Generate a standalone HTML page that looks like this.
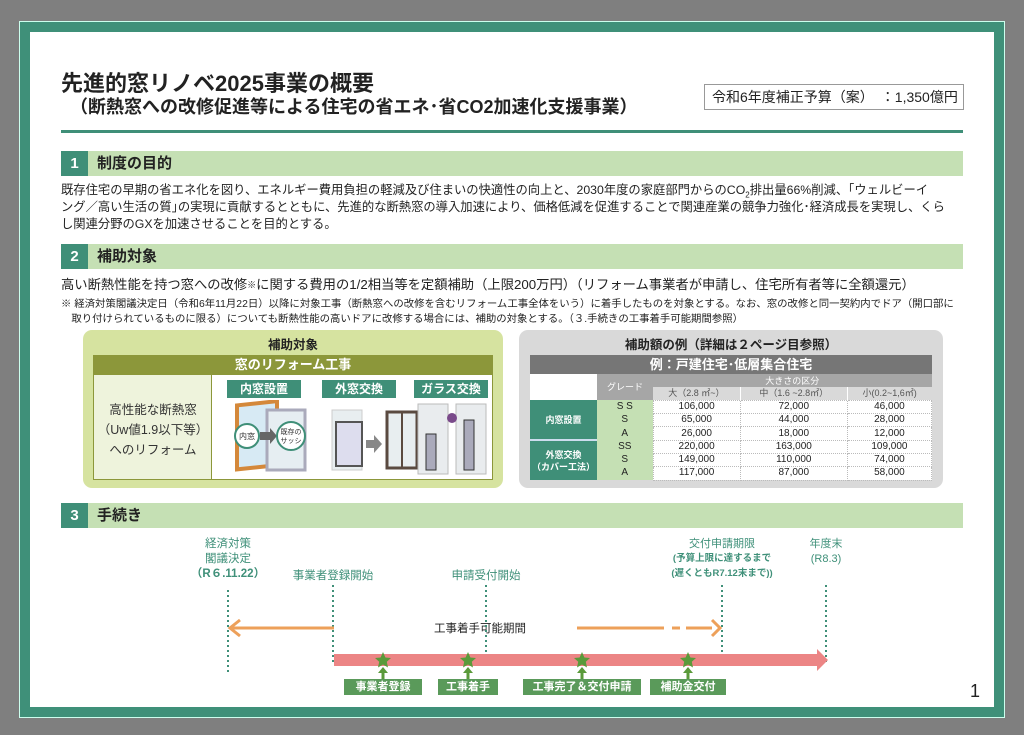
<!DOCTYPE html>
<html><head><meta charset="utf-8"><style>
*{margin:0;padding:0;box-sizing:border-box}
body{width:1024px;height:735px;background:#7f7f7f;position:relative;overflow:hidden;font-family:"Liberation Sans","Noto Sans CJK JP",sans-serif;color:#222}
.a{position:absolute;white-space:nowrap}
.frame{left:19px;top:21px;width:986px;height:697px;background:#3f9079;border:1px solid #cfe;}
.inner{left:30px;top:32px;width:964px;height:675px;background:#fff}
.bar{left:61px;width:902px;height:25px;background:#c5e0b4}
.num{width:27px;height:25px;background:#3f8f78;color:#fff;font-weight:bold;font-size:15px;text-align:center;line-height:25px}
.bt{font-weight:bold;font-size:15px;line-height:25px;left:36px;top:0}
.p{font-size:12.3px;line-height:17px}
.gl{background:#3f8f78;color:#fff;font-weight:bold;font-size:12px;text-align:center;line-height:18px}
table{border-collapse:collapse;font-size:10px}
td{text-align:center;height:13.3px;line-height:12px;padding:0}
td.w{background:#fff;border:1px dotted #bbb}
.tl{background:#5a9a5a;color:#fff;font-weight:bold;font-size:11px;text-align:center;line-height:16px}
</style></head><body>
<div class="a frame"></div>
<div class="a inner"></div>
<div class="a" style="left:61px;top:66px;font-size:22px;font-weight:bold">先進的窓リノベ2025事業の概要</div>
<div class="a" style="left:70px;top:93px;font-size:18px;font-weight:bold">（断熱窓への改修促進等による住宅の省エネ･省CO2加速化支援事業）</div>
<div class="a" style="left:704px;top:84px;width:260px;height:26px;border:1px solid #999;font-size:14px;line-height:24px;padding-left:7px">令和6年度補正予算（案）　：1,350億円</div>
<div class="a" style="left:61px;top:130px;width:902px;height:3px;background:#3f8f78"></div>

<div class="a bar" style="top:151px"><div class="a num" style="left:0;top:0">1</div><div class="a bt">制度の目的</div></div>
<div class="a p" style="left:61px;top:182px">既存住宅の早期の省エネ化を図り、エネルギー費用負担の軽減及び住まいの快適性の向上と、2030年度の家庭部門からのCO<sub style="font-size:8px">2</sub>排出量66%削減、｢ウェルビーイ</div>
<div class="a p" style="left:61px;top:199px">ング／高い生活の質｣の実現に貢献するとともに、先進的な断熱窓の導入加速により、価格低減を促進することで関連産業の競争力強化･経済成長を実現し、くら</div>
<div class="a p" style="left:61px;top:216px">し関連分野のGXを加速させることを目的とする。</div>

<div class="a bar" style="top:244px"><div class="a num" style="left:0;top:0">2</div><div class="a bt">補助対象</div></div>
<div class="a" style="left:61px;top:276px;font-size:13.3px;line-height:18px">高い断熱性能を持つ窓への改修<span style="font-size:9px;vertical-align:top">※</span>に関する費用の1/2相当等を定額補助（上限200万円）（リフォーム事業者が申請し、住宅所有者等に全額還元）</div>
<div class="a" style="left:61px;top:297px;font-size:10.4px;line-height:15px">※ 経済対策閣議決定日（令和6年11月22日）以降に対象工事（断熱窓への改修を含むリフォーム工事全体をいう）に着手したものを対象とする。なお、窓の改修と同一契約内でドア（開口部に<br>　取り付けられているものに限る）についても断熱性能の高いドアに改修する場合には、補助の対象とする。（３.手続きの工事着手可能期間参照）</div>

<div class="a" style="left:83px;top:330px;width:420px;height:158px;background:#d6e3a0;border-radius:9px"></div>
<div class="a" style="left:83px;top:334px;width:420px;text-align:center;font-size:12.5px;font-weight:bold">補助対象</div>
<div class="a" style="left:93px;top:355px;width:400px;height:19px;background:#8c973a;color:#fff;font-weight:bold;font-size:13px;text-align:center;line-height:19px">窓のリフォーム工事</div>
<div class="a" style="left:93px;top:374px;width:400px;height:106px;background:#fff;border:1px solid #8c973a"></div>
<div class="a" style="left:94px;top:375px;width:118px;height:104px;background:#eef3dc;border-right:1px solid #8c973a"></div>
<div class="a" style="left:94px;top:400px;width:118px;text-align:center;font-size:12.5px;line-height:20px;color:#333">高性能な断熱窓<br>（Uw値1.9以下等）<br>へのリフォーム</div>
<div class="a gl" style="left:227px;top:380px;width:74px">内窓設置</div>
<div class="a gl" style="left:322px;top:380px;width:74px">外窓交換</div>
<div class="a gl" style="left:414px;top:380px;width:74px">ガラス交換</div>
<svg class="a" style="left:212px;top:400px" width="280" height="78">
<rect x="25" y="8" width="40" height="64" fill="#d7eaf4" stroke="#d4883a" stroke-width="4" transform="skewY(-6)"/>
<rect x="55" y="10" width="38" height="60" fill="#e6eef2" stroke="#aab" stroke-width="3"/>
<circle cx="35" cy="36" r="12" fill="#fff" stroke="#3f8f78" stroke-width="2"/>
<text x="35" y="39" font-size="8" text-anchor="middle" fill="#333" font-family="Liberation Sans,Noto Sans CJK JP,sans-serif">内窓</text>
<polygon points="48,32 58,32 58,28 65,36 58,44 58,40 48,40" fill="#666"/>
<circle cx="79" cy="36" r="14" fill="#fff" stroke="#3f8f78" stroke-width="2"/>
<text x="79" y="34" font-size="7" text-anchor="middle" fill="#333" font-family="Liberation Sans,Noto Sans CJK JP,sans-serif">既存の</text>
<text x="79" y="43" font-size="7" text-anchor="middle" fill="#333" font-family="Liberation Sans,Noto Sans CJK JP,sans-serif">サッシ</text>
<rect x="120" y="10" width="30" height="60" fill="#e8eef0" stroke="#ccc"/>
<rect x="124" y="22" width="26" height="44" fill="#dde" stroke="#555" stroke-width="2"/>
<polygon points="154,40 162,40 162,35 170,44 162,53 162,48 154,48" fill="#888"/>
<rect x="175" y="12" width="30" height="56" fill="#e8eef0" stroke="#5a4a40" stroke-width="3"/>
<line x1="190" y1="12" x2="190" y2="68" stroke="#5a4a40" stroke-width="2"/>
<rect x="206" y="4" width="30" height="70" fill="#e9ecee" stroke="#bbb"/>
<rect x="244" y="4" width="30" height="70" fill="#e9ecee" stroke="#bbb"/>
<rect x="214" y="34" width="10" height="36" fill="#aab" stroke="#333"/>
<rect x="252" y="20" width="10" height="50" fill="#aab" stroke="#333"/>
<circle cx="240" cy="18" r="5" fill="#7a4a8a"/>
</svg>

<div class="a" style="left:519px;top:330px;width:424px;height:158px;background:#d9d9d9;border-radius:9px"></div>
<div class="a" style="left:519px;top:334px;width:424px;text-align:center;font-size:12.5px;font-weight:bold">補助額の例（詳細は２ページ目参照）</div>
<div class="a" style="left:530px;top:355px;width:402px;height:19px;background:#767676;color:#fff;font-weight:bold;font-size:13px;text-align:center;line-height:19px">例：戸建住宅･低層集合住宅</div>
<table class="a" style="left:530px;top:374px;width:402px">
<tr><td rowspan="2" style="width:67px;background:#fff;height:26px"></td><td rowspan="2" style="width:56px;background:#a6a6a6;color:#fff;font-size:9px">グレード</td><td colspan="3" style="background:#a6a6a6;color:#fff;font-size:9px;height:13px">大きさの区分</td></tr>
<tr><td style="background:#d9d9d9;color:#555;font-size:9px;border-right:1px solid #fff;height:13px">大（2.8 ㎡~）</td><td style="background:#d9d9d9;color:#555;font-size:9px;border-right:1px solid #fff">中（1.6 ~2.8㎡）</td><td style="background:#d9d9d9;color:#555;font-size:9px">小(0.2~1,6㎡)</td></tr>
<tr><td rowspan="3" style="background:#3f8f78;color:#fff;font-size:9px;font-weight:bold;border-bottom:2px solid #cde">内窓設置</td><td style="background:#c5e0b4">S S</td><td class="w">106,000</td><td class="w">72,000</td><td class="w">46,000</td></tr>
<tr><td style="background:#c5e0b4">S</td><td class="w">65,000</td><td class="w">44,000</td><td class="w">28,000</td></tr>
<tr><td style="background:#c5e0b4">A</td><td class="w">26,000</td><td class="w">18,000</td><td class="w">12,000</td></tr>
<tr><td rowspan="3" style="background:#3f8f78;color:#fff;font-size:9px;font-weight:bold;line-height:12px">外窓交換<br>（カバー工法）</td><td style="background:#c5e0b4">SS</td><td class="w">220,000</td><td class="w">163,000</td><td class="w">109,000</td></tr>
<tr><td style="background:#c5e0b4">S</td><td class="w">149,000</td><td class="w">110,000</td><td class="w">74,000</td></tr>
<tr><td style="background:#c5e0b4">A</td><td class="w">117,000</td><td class="w">87,000</td><td class="w">58,000</td></tr>
</table>

<div class="a bar" style="top:503px"><div class="a num" style="left:0;top:0">3</div><div class="a bt">手続き</div></div>

<div class="a" style="left:178px;top:537px;width:100px;text-align:center;font-size:11.5px;line-height:15px;color:#3f9079">経済対策<br>閣議決定<br><b>（R６.11.22）</b></div>
<div class="a" style="left:283px;top:567px;width:100px;text-align:center;font-size:11.5px;color:#3f9079">事業者登録開始</div>
<div class="a" style="left:436px;top:567px;width:100px;text-align:center;font-size:11.5px;color:#3f9079">申請受付開始</div>
<div class="a" style="left:652px;top:537px;width:140px;text-align:center;font-size:11px;line-height:14px;color:#3f9079">交付申請期限<br><b style="font-size:9.5px">(予算上限に達するまで<br>(遅くともR7.12末まで))</b></div>
<div class="a" style="left:786px;top:537px;width:80px;text-align:center;font-size:11px;line-height:15px;color:#3f9079">年度末<br>(R8.3)</div>
<div class="a" style="left:420px;top:620px;width:120px;text-align:center;font-size:11.5px">工事着手可能期間</div>
<svg class="a" style="left:0;top:0" width="1024" height="735">
<g stroke="#3f8f78" stroke-width="2" stroke-dasharray="2,3">
<line x1="228" y1="590" x2="228" y2="674"/><line x1="333" y1="585" x2="333" y2="665"/><line x1="486" y1="585" x2="486" y2="662"/><line x1="722" y1="585" x2="722" y2="662"/><line x1="826" y1="585" x2="826" y2="662"/>
</g>
<g stroke="#eda05a" stroke-width="3" fill="none">
<line x1="230" y1="628" x2="334" y2="628"/><polyline points="240,620 230,628 240,636"/>
<line x1="577" y1="628" x2="664" y2="628"/><line x1="672" y1="628" x2="680" y2="628"/><line x1="686" y1="628" x2="712" y2="628"/><polyline points="712,620 720,628 712,636"/>
</g>
<polygon points="334,654 817,654 817,649 828,660 817,671 817,666 334,666" fill="#ec8585"/>
<g fill="#5a9a3a">
<polygon id="st" points="383,652 385.4,657.5 391,658 386.8,661.8 388,667.5 383,664.5 378,667.5 379.2,661.8 375,658 380.6,657.5"/>
<use href="#st" x="85"/><use href="#st" x="199"/><use href="#st" x="305"/>
<g id="ar"><rect x="381.5" y="671" width="3" height="8"/><polygon points="378,673 383,667 388,673"/></g>
<use href="#ar" x="85"/><use href="#ar" x="199"/><use href="#ar" x="305"/>
</g>
</svg>
<div class="a tl" style="left:344px;top:679px;width:78px">事業者登録</div>
<div class="a tl" style="left:438px;top:679px;width:60px">工事着手</div>
<div class="a tl" style="left:523px;top:679px;width:118px">工事完了＆交付申請</div>
<div class="a tl" style="left:650px;top:679px;width:76px">補助金交付</div>
<div class="a" style="left:970px;top:681px;font-size:18px">1</div>
</body></html>
